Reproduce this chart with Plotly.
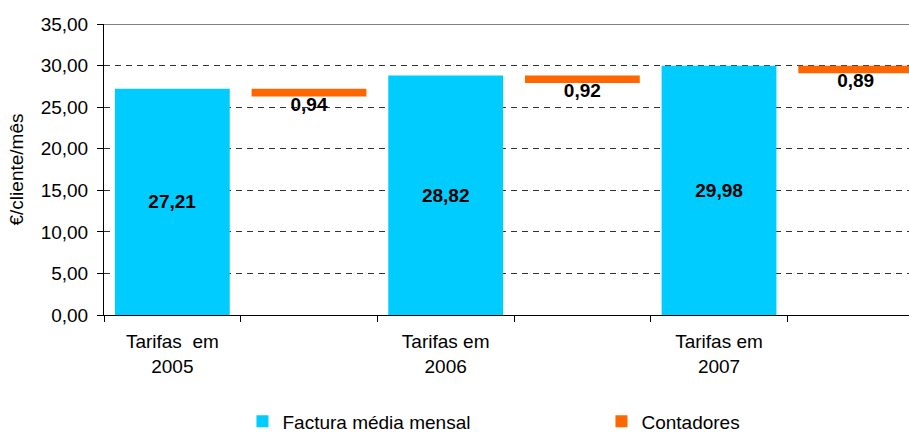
import plotly.graph_objects as go

# Average monthly bill per customer and the meter component, by tariff year
years = ["2005", "2006", "2007"]
tick_labels = ["Tarifas\u00a0\u00a0em<br>2005", "Tarifas em<br>2006", "Tarifas em<br>2007"]
factura = [27.21, 28.82, 29.98]
contadores = [0.94, 0.92, 0.89]

BLUE = "#00CCFF"
ORANGE = "#FF6600"
FONT = "Liberation Sans, Arial, sans-serif"

x_bill = [0, 2, 4]
x_meter = [1, 3, 5]
meter_base = [round(f - c, 2) for f, c in zip(factura, contadores)]

fig = go.Figure()

fig.add_trace(go.Bar(
    x=x_bill, y=factura, width=0.84,
    name="Factura média mensal",
    marker=dict(color=BLUE, line=dict(width=0)),
    texttemplate="<b>%{y:.2f}</b>", textposition="inside",
    insidetextanchor="middle",
    textfont=dict(family=FONT, size=19, color="black"),
))

fig.add_trace(go.Bar(
    x=x_meter, y=contadores, base=meter_base, width=0.84,
    name="Contadores",
    marker=dict(color=ORANGE, line=dict(width=0)),
    textposition="none",
))

# value labels under the floating meter bars
fig.add_trace(go.Scatter(
    x=x_meter, y=meter_base, mode="text",
    text=["<b>" + f"{c:.2f}".replace(".", ",") + "</b>" for c in contadores],
    textposition="bottom center",
    textfont=dict(family=FONT, size=19, color="black"),
    showlegend=False, hoverinfo="skip",
))

fig.update_layout(
    width=909, height=432,
    margin=dict(l=104, r=0, t=24, b=117, autoexpand=False),
    plot_bgcolor="white", paper_bgcolor="white",
    separators=", ",
    barmode="overlay",
    font=dict(family=FONT, size=19, color="black"),
    showlegend=True,
    legend=dict(
        orientation="h", x=0.172, xanchor="left", y=-0.30, yanchor="top",
        entrywidth=314, entrywidthmode="pixels",
        font=dict(family=FONT, size=19, color="black"),
        traceorder="normal",
    ),
    shapes=[dict(type="line", xref="paper", yref="y", x0=0, x1=1, y0=35, y1=35,
                 line=dict(color="black", width=1))],
)

fig.update_xaxes(
    range=[-0.5, 5.39],
    tickvals=x_bill, ticktext=tick_labels,
    ticks="", showgrid=False, zeroline=False,
    showline=True, linecolor="black", linewidth=1,
    ticklabelstandoff=9,
    tickfont=dict(family=FONT, size=19, color="black"),
    minor=dict(tickvals=[-0.5, 0.5, 1.5, 2.5, 3.5, 4.5, 5.5], ticks="outside",
               ticklen=6, tickcolor="black", showgrid=False),
)

fig.update_yaxes(
    range=[0, 35], tickvals=[0, 5, 10, 15, 20, 25, 30, 35], tickformat=".2f",
    ticks="outside", ticklen=6, tickcolor="black",
    showline=True, linecolor="black", linewidth=1,
    showgrid=True, gridcolor="#333333", gridwidth=1, griddash="6px,5px",
    zeroline=False,
    ticklabelstandoff=5,
    tickfont=dict(family=FONT, size=19, color="black"),
    title=dict(text="€/cliente/mês", font=dict(family=FONT, size=19, color="black"), standoff=12),
)

fig.write_html("out.html")
